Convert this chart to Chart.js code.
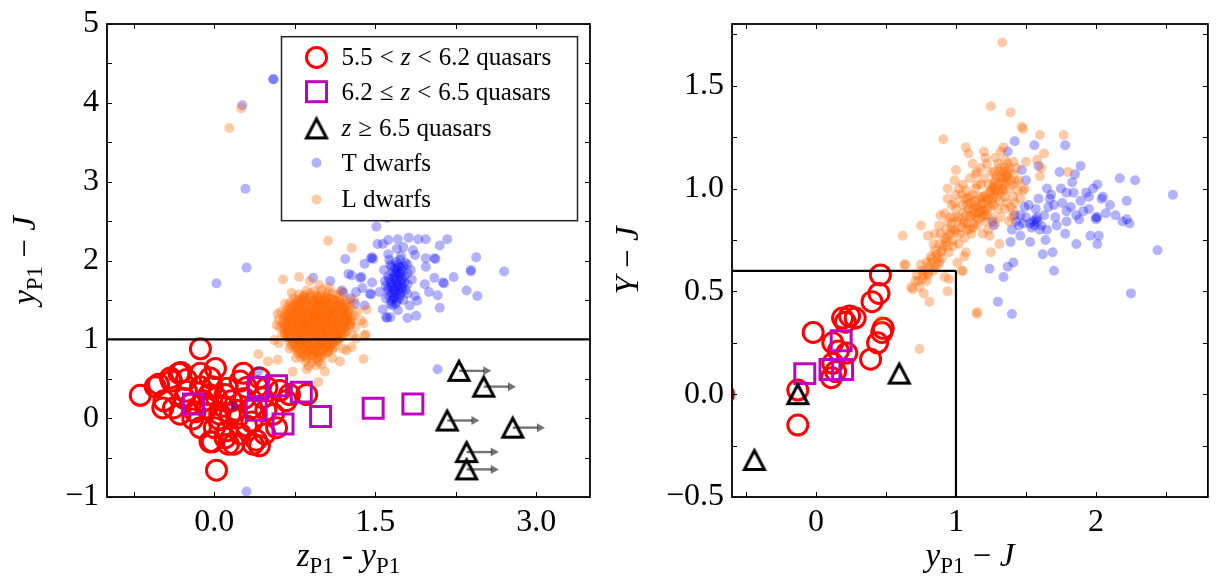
<!DOCTYPE html>
<html>
<head>
<meta charset="utf-8">
<script src="https://cdn.jsdelivr.net/npm/chart.js@4.4.1/dist/chart.umd.min.js"></script>
<style>
  html, body { margin: 0; padding: 0; background: #fff; }
  #wrap { position: relative; width: 1225px; height: 581px; overflow: hidden; }
  canvas { position: absolute; top: 0; }
</style>
</head>
<body>
<div id="wrap">
  <canvas id="leftPanel" width="612" height="581" style="left:0"></canvas>
  <canvas id="rightPanel" width="613" height="581" style="left:612px"></canvas>
</div>
<script>
/* ==========================================================
   Colour–colour diagrams: quasars vs L/T dwarfs (two panels)
========================================================== */

/* ---------- series names ---------- */
const SERIES_NAMES = ['5.5 < z < 6.2 quasars', '6.2 ≤ z < 6.5 quasars', 'z ≥ 6.5 quasars', 'T dwarfs', 'L dwarfs'];

/* ---------- left panel: z_P1 - y_P1  vs  y_P1 - J ---------- */
const LEFT_X_RANGE = [-1.0, 3.5];
const LEFT_Y_RANGE = [-1, 5];
const LEFT_X_TICKS = [-0.75, 0, 0.75, 1.5, 2.25, 3.0];
const LEFT_X_LABELS = ['', '0.0', '', '1.5', '', '3.0'];
const LEFT_Y_TICKS = [-1, -0.5, 0, 0.5, 1, 1.5, 2, 2.5, 3, 3.5, 4, 4.5, 5];
const LEFT_Y_LABELS = ['−1', '', '0', '', '1', '', '2', '', '3', '', '4', '', '5'];
const LEFT_CUT_Y = 1;          // y_P1 - J = 1 selection line
const ARROW_LEN = 0.3;         // lower-limit arrows on z >= 6.5 quasars

const LEFT_Q1 = [
  [-0.13,0.88],[-0.69,0.29],[-0.47,0.22],[-0.48,0.13],[-0.40,0.47],[-0.33,0.57],[-0.52,0.43],
  [-0.26,0.49],[-0.13,0.57],[0.01,0.63],[-0.04,0.51],[-0.13,0.40],[-0.26,0.34],[-0.32,0.05],
  [-0.20,-0.01],[-0.07,0.13],[0.02,0.26],[0.12,0.38],[0.24,0.47],[0.30,0.39],[0.16,0.22],
  [0.05,0.05],[-0.04,-0.30],[0.02,-0.66],[0.13,-0.33],[0.24,-0.20],[0.39,-0.28],[0.42,-0.35],
  [0.30,-0.10],[0.21,0.00],[0.35,0.13],[0.45,0.26],[0.58,-0.12],[0.67,0.22],[0.86,0.30],
  [0.61,0.35],[0.49,0.39],[-0.13,-0.12],[-0.22,0.18],[-0.38,0.13],[0.12,-0.16],[0.00,-0.12],
  [0.18,-0.33],[0.36,-0.33],[0.27,0.57],[0.42,0.51],[-0.41,0.51],[-0.55,0.40],[-0.31,0.58],
  [-0.05,0.30],[0.08,0.15],[-0.10,0.22],[0.10,0.30],[0.20,0.10],[0.28,0.25],[-0.18,0.08],
  [0.05,-0.02],[0.15,0.05],[-0.02,0.40],[0.35,-0.05],[0.48,0.10],[0.55,0.05],[0.10,-0.25],
  [-0.28,0.25],[0.70,0.30],[0.40,0.40],[-0.02,-0.30],[0.47,-0.20]
];
const LEFT_Q2 = [
  [-0.195,0.18],[0.41,0.39],[0.58,0.41],[0.39,0.10],[0.81,0.33],[0.64,-0.075],[0.99,0.02],[1.48,0.125],[1.85,0.18]
];
const LEFT_Q3 = [
  [2.28,0.60],[2.51,0.40],[2.17,-0.03],[2.78,-0.12],[2.35,-0.43],[2.35,-0.65]
];
const LEFT_T = [
  [0.55,4.30],[0.55,4.30],[0.26,3.97],[0.29,2.91],[0.30,1.91],[0.02,1.71],[1.51,2.43],[1.61,2.54],
  [2.08,0.62],[0.30,-0.93],[0.41,0.60],[0.18,0.15],
  [1.52,2.21],[1.57,2.21],[1.62,2.26],[1.71,2.27],[1.81,2.29],[1.90,2.27],[1.97,2.27],[2.17,2.27],
  [2.10,2.19],[1.70,2.15],[1.76,2.17],[1.85,2.13],[1.87,2.07],[1.22,2.02],[1.46,2.03],[1.47,2.04],
  [1.48,2.02],[1.40,1.96],[1.63,2.01],[1.73,2.01],[1.80,1.95],[1.97,2.03],[2.05,2.03],[2.06,2.02],
  [1.97,1.92],[2.44,2.04],[2.39,1.86],[2.39,1.88],[2.70,1.86],[1.25,1.83],[1.37,1.79],[1.47,1.72],
  [2.05,1.78],[2.13,1.72],[2.14,1.71],[2.23,1.79],[1.96,1.70],[2.00,1.60],[2.08,1.56],[2.10,1.40],
  [2.35,1.62],[2.45,1.55],[1.32,1.60],[1.38,1.65],[1.45,1.58],[1.46,1.57],[1.54,1.60],[1.57,1.38],
  [1.60,1.28],[1.61,1.27],[1.64,1.28],[1.71,1.37],[1.80,1.27],[1.88,1.30],[1.82,1.43],[1.89,1.49],
  [1.87,1.55],[1.40,1.43],[1.31,1.45],[1.20,1.59],[1.27,1.52],[0.92,1.78],[1.08,1.74],[1.19,1.62],
  [1.36,1.78],[1.28,1.81],
  [1.64,1.95],[1.68,1.90],[1.72,1.92],[1.66,1.85],[1.70,1.84],[1.75,1.86],[1.62,1.80],[1.67,1.78],
  [1.72,1.79],[1.77,1.80],[1.64,1.73],[1.69,1.72],[1.74,1.74],[1.60,1.68],[1.65,1.66],[1.70,1.67],
  [1.75,1.68],[1.80,1.70],[1.62,1.62],[1.67,1.60],[1.72,1.62],[1.78,1.63],[1.63,1.55],[1.68,1.54],
  [1.73,1.56],[1.65,1.49],[1.70,1.48],[1.60,1.52],[1.76,1.50],[1.69,1.98],[1.78,1.97],[1.83,1.88],
  [1.58,1.88],[1.80,1.58],[1.84,1.76],[1.66,1.43],[1.59,1.74],[1.74,2.06],[1.62,2.08],
  [1.65,1.92],[1.70,1.88],[1.74,1.90],[1.68,1.82],[1.73,1.83],[1.63,1.77],[1.69,1.76],[1.75,1.77],
  [1.66,1.70],[1.71,1.70],[1.77,1.72],[1.62,1.65],[1.68,1.64],[1.74,1.65],[1.65,1.58],[1.70,1.58],
  [1.75,1.60],[1.67,1.52],[1.72,1.52],[1.64,1.45],[1.69,1.45],[1.71,1.95],[1.76,1.93],[1.80,1.84]
];
const LEFT_L = [
  [0.14,3.68],[0.25,3.93],[1.06,2.25],[1.28,2.16],[0.64,1.76],[0.79,1.79],[0.72,1.59],[0.59,1.32],
  [0.58,1.18],[0.66,1.07],[0.56,0.99],[0.41,0.81],[0.50,0.72],[0.59,0.74],[0.73,0.59],[0.86,0.62],
  [0.95,0.67],[1.03,0.59],[1.17,0.72],[1.23,0.86],[1.28,0.90],[1.39,0.75],[1.32,1.01],[1.41,1.06],
  [1.39,1.20],[1.23,1.50],[1.18,1.61],[1.07,1.66],[0.98,1.69],[0.89,1.74],[1.14,0.99],[0.97,0.46],
  [1.42,1.38],[1.37,1.24],[1.40,1.05],[1.33,1.35],[1.30,1.50],[1.25,1.40],
  [0.86,1.62],[0.93,1.61],[1.00,1.63],[1.06,1.60],
  [0.79,1.57],[0.84,1.56],[0.89,1.58],[0.95,1.56],[1.00,1.57],[1.05,1.55],[1.10,1.58],[1.14,1.56],
  [0.74,1.52],[0.79,1.51],[0.83,1.53],[0.88,1.52],[0.93,1.50],[0.97,1.53],[1.02,1.51],[1.07,1.52],[1.12,1.50],[1.17,1.52],
  [0.71,1.47],[0.76,1.46],[0.80,1.48],[0.85,1.47],[0.90,1.45],[0.94,1.48],[0.99,1.46],[1.04,1.47],[1.08,1.45],[1.13,1.48],[1.18,1.46],[1.22,1.47],
  [0.69,1.42],[0.73,1.41],[0.78,1.43],[0.82,1.41],[0.87,1.42],[0.92,1.40],[0.96,1.43],[1.01,1.41],[1.05,1.42],[1.10,1.40],[1.15,1.43],[1.19,1.41],[1.23,1.42],
  [0.67,1.37],[0.72,1.36],[0.76,1.38],[0.81,1.36],[0.85,1.37],[0.90,1.35],[0.94,1.38],[0.99,1.36],[1.03,1.37],[1.08,1.35],[1.12,1.38],[1.17,1.36],[1.21,1.37],[1.25,1.35],
  [0.66,1.32],[0.70,1.31],[0.75,1.33],[0.79,1.31],[0.84,1.32],[0.88,1.30],[0.93,1.33],[0.97,1.31],[1.02,1.32],[1.06,1.30],[1.11,1.33],[1.15,1.31],[1.20,1.32],[1.24,1.30],
  [0.65,1.27],[0.69,1.26],[0.74,1.28],[0.78,1.26],[0.83,1.27],[0.87,1.25],[0.92,1.28],[0.96,1.26],[1.01,1.27],[1.05,1.25],[1.10,1.28],[1.14,1.26],[1.19,1.27],[1.23,1.25],[1.27,1.27],
  [0.64,1.22],[0.68,1.21],[0.73,1.23],[0.77,1.21],[0.82,1.22],[0.86,1.20],[0.91,1.23],[0.95,1.21],[1.00,1.22],[1.04,1.20],[1.09,1.23],[1.13,1.21],[1.18,1.22],[1.22,1.20],[1.26,1.22],
  [0.64,1.17],[0.68,1.16],[0.73,1.18],[0.77,1.16],[0.82,1.17],[0.86,1.15],[0.91,1.18],[0.95,1.16],[1.00,1.17],[1.04,1.15],[1.09,1.18],[1.13,1.16],[1.18,1.17],[1.22,1.15],[1.26,1.17],
  [0.65,1.12],[0.69,1.11],[0.74,1.13],[0.78,1.11],[0.83,1.12],[0.87,1.10],[0.92,1.13],[0.96,1.11],[1.01,1.12],[1.05,1.10],[1.10,1.13],[1.14,1.11],[1.19,1.12],[1.23,1.10],
  [0.66,1.07],[0.70,1.06],[0.75,1.08],[0.79,1.06],[0.84,1.07],[0.88,1.05],[0.93,1.08],[0.97,1.06],[1.02,1.07],[1.06,1.05],[1.11,1.08],[1.15,1.06],[1.20,1.07],
  [0.68,1.02],[0.72,1.01],[0.77,1.03],[0.81,1.01],[0.86,1.02],[0.90,1.00],[0.95,1.03],[0.99,1.01],[1.04,1.02],[1.08,1.00],[1.13,1.03],[1.17,1.01],
  [0.70,0.97],[0.74,0.96],[0.79,0.98],[0.83,0.96],[0.88,0.97],[0.92,0.95],[0.97,0.98],[1.01,0.96],[1.06,0.97],[1.10,0.95],[1.15,0.98],
  [0.72,0.92],[0.77,0.91],[0.81,0.93],[0.86,0.91],[0.90,0.92],[0.95,0.90],[0.99,0.93],[1.04,0.91],[1.08,0.92],[1.12,0.90],
  [0.75,0.87],[0.79,0.86],[0.84,0.88],[0.88,0.86],[0.93,0.87],[0.97,0.85],[1.02,0.88],[1.06,0.86],[1.10,0.87],
  [0.78,0.82],[0.83,0.81],[0.87,0.83],[0.92,0.81],[0.96,0.82],[1.01,0.80],[1.05,0.83],
  [0.81,0.77],[0.86,0.76],[0.91,0.78],[0.95,0.76],[1.00,0.77],
  [0.85,0.72],[0.91,0.71],[0.97,0.72],
  [0.88,1.20],[0.94,1.28],[1.00,1.20],[0.92,1.10],[0.98,1.14],[1.04,1.28],[0.86,1.12],[0.96,1.36],
  [0.90,1.30],[1.06,1.12],[0.82,1.20],[0.94,1.04],[1.00,0.94],[0.86,0.96],[1.10,1.20],[0.80,1.36],
  [0.98,1.44],[1.08,1.36],[0.92,0.86],[0.78,1.10],
  [0.83,1.54],[0.91,1.55],[0.98,1.54],[1.05,1.53],
  [0.77,1.49],[0.84,1.50],[0.91,1.49],[0.97,1.50],[1.03,1.49],[1.10,1.50],[1.15,1.49],
  [0.74,1.44],[0.80,1.45],[0.86,1.44],[0.93,1.45],[0.99,1.44],[1.05,1.45],[1.12,1.44],[1.18,1.45],
  [0.71,1.39],[0.78,1.40],[0.84,1.39],[0.90,1.40],[0.97,1.39],[1.03,1.40],[1.09,1.39],[1.15,1.40],[1.21,1.39],
  [0.69,1.34],[0.76,1.35],[0.82,1.34],[0.88,1.35],[0.95,1.34],[1.01,1.35],[1.07,1.34],[1.13,1.35],[1.19,1.34],[1.24,1.33],
  [0.68,1.29],[0.74,1.30],[0.80,1.29],[0.86,1.30],[0.93,1.29],[0.99,1.30],[1.05,1.29],[1.11,1.30],[1.17,1.29],[1.23,1.30],
  [0.67,1.24],[0.73,1.25],[0.79,1.24],[0.85,1.25],[0.92,1.24],[0.98,1.25],[1.04,1.24],[1.10,1.25],[1.16,1.24],[1.22,1.25],[1.28,1.24],
  [0.66,1.19],[0.72,1.20],[0.78,1.19],[0.84,1.20],[0.91,1.19],[0.97,1.20],[1.03,1.19],[1.09,1.20],[1.15,1.19],[1.21,1.20],[1.27,1.19],
  [0.67,1.14],[0.73,1.15],[0.79,1.14],[0.85,1.15],[0.92,1.14],[0.98,1.15],[1.04,1.14],[1.10,1.15],[1.16,1.14],[1.22,1.15],
  [0.68,1.09],[0.74,1.10],[0.80,1.09],[0.86,1.10],[0.93,1.09],[0.99,1.10],[1.05,1.09],[1.11,1.10],[1.17,1.09],[1.22,1.08],
  [0.70,1.04],[0.76,1.05],[0.82,1.04],[0.88,1.05],[0.95,1.04],[1.01,1.05],[1.07,1.04],[1.13,1.05],[1.19,1.04],
  [0.72,0.99],[0.78,1.00],[0.84,0.99],[0.90,1.00],[0.97,0.99],[1.03,1.00],[1.09,0.99],[1.15,1.00],
  [0.74,0.94],[0.80,0.95],[0.87,0.94],[0.93,0.95],[0.99,0.94],[1.05,0.95],[1.11,0.94],
  [0.77,0.89],[0.83,0.90],[0.90,0.89],[0.96,0.90],[1.02,0.89],[1.08,0.90],
  [0.80,0.84],[0.87,0.85],[0.94,0.84],[1.00,0.85],[1.06,0.84],
  [0.84,0.79],[0.91,0.80],[0.98,0.79],
  [0.60,1.25],[0.61,1.15],[0.62,1.35],[0.63,1.05],[0.60,0.95],[1.30,1.30],[1.31,1.15],[1.29,1.05],
  [0.66,1.45],[1.27,1.42],[0.70,0.88],[1.20,0.88],[0.76,0.76],[1.10,0.76],[0.88,0.66],[1.00,0.68]
];

/* ---------- right panel: y_P1 - J  vs  Y - J ---------- */
const RIGHT_X_RANGE = [-0.6, 2.8];
const RIGHT_Y_RANGE = [-0.5, 1.8];
const RIGHT_X_TICKS = [-0.5, 0, 0.5, 1, 1.5, 2, 2.5];
const RIGHT_X_LABELS = ['', '0', '', '1', '', '2', ''];
const RIGHT_Y_TICKS = [-0.5, -0.25, 0, 0.25, 0.5, 0.75, 1, 1.25, 1.5, 1.75];
const RIGHT_Y_LABELS = ['−0.5', '', '0.0', '', '0.5', '', '1.0', '', '1.5', ''];
const RIGHT_CUT_X = 1;         // y_P1 - J < 1
const RIGHT_CUT_Y = 0.6;       // Y - J < 0.6

const RIGHT_Q1 = [
  [0.46,0.58],[0.45,0.49],[0.40,0.45],[0.19,0.37],[0.24,0.38],[0.28,0.37],[0.21,0.35],[0.48,0.32],
  [0.47,0.30],[0.44,0.25],[-0.02,0.30],[0.12,0.25],[0.16,0.21],[0.22,0.20],[0.39,0.17],[0.12,0.15],
  [0.11,0.08],[0.14,0.11],[-0.13,0.02],[-0.13,-0.15],[-0.66,0.0]
];
const RIGHT_Q2 = [[-0.08,0.10],[0.10,0.12],[0.19,0.12],[0.18,0.26]];
const RIGHT_Q3 = [[-0.13,0.0],[-0.44,-0.32],[0.595,0.10]];
const RIGHT_T = [
  [1.42,1.23],[1.56,1.21],[1.78,1.21],[1.37,1.18],[1.59,1.11],[1.74,1.08],[1.85,1.07],[1.89,1.11],
  [1.83,1.03],[1.50,1.04],[1.65,1.00],[1.75,1.00],[1.79,0.98],[1.93,0.98],[2.01,1.02],[1.95,0.96],
  [2.05,0.96],[2.17,1.05],[2.28,1.04],[2.55,0.97],[2.22,0.94],[1.89,0.94],[1.67,0.95],[1.59,0.95],
  [1.52,0.92],[1.57,0.90],[1.70,0.92],[1.79,0.89],[1.86,0.87],[1.91,0.89],[2.00,0.86],[2.07,0.88],
  [2.14,0.87],[2.19,0.84],[2.24,0.83],[2.44,0.70],[2.25,0.49],[1.46,0.87],[1.48,0.83],[1.53,0.83],
  [1.61,0.82],[1.65,0.80],[1.71,0.86],[1.79,0.84],[1.78,0.78],[1.39,0.74],[1.46,0.77],[1.53,0.74],
  [1.64,0.75],[1.86,0.73],[1.96,0.77],[2.01,0.73],[2.02,0.77],[1.62,0.68],[1.69,0.69],[1.70,0.60],
  [1.41,0.64],[1.37,0.62],[1.24,0.61],[1.34,0.57],[1.30,0.45],[1.40,0.39],[1.27,0.82],[1.26,0.84],
  [1.43,0.84],[1.45,0.82],[1.40,0.80],[1.42,0.87],[1.55,0.84],[1.57,0.85],[2.00,0.85],[2.01,0.86],
  [1.56,0.82],[1.58,0.86],[1.66,0.91],[2.04,0.95],[2.22,0.85],[1.47,1.09],[1.49,0.91],
  [1.50,0.86],[1.54,0.81],[1.60,0.80],[1.58,0.84],[1.76,0.93],[1.82,0.91],[1.88,0.85],[1.95,0.90],
  [2.10,0.92],[1.72,0.82],[1.63,0.87],[1.68,0.97],[1.84,0.98],[1.98,1.00]
];
const RIGHT_L = [
  [1.33,1.71],[1.25,1.40],[1.39,1.37],[1.47,1.30],[1.48,1.29],[1.60,1.26],[1.77,1.26],[0.91,1.24],
  [1.07,1.20],[1.09,1.17],[1.20,1.18],[1.21,1.15],[1.34,1.20],[1.41,1.13],[1.50,1.13],[1.58,1.14],
  [1.63,1.17],[1.61,1.10],[1.60,1.06],[1.00,1.09],[0.99,1.04],[1.14,1.07],[1.20,1.05],[0.94,1.00],
  [0.94,0.95],[1.02,1.00],[1.07,0.99],[1.15,1.02],[1.27,1.03],[1.34,1.05],[1.37,1.08],[1.43,1.10],
  [1.49,1.00],[1.46,0.95],[1.80,1.08],[0.89,0.87],[0.75,0.82],[0.62,0.77],[0.80,0.77],[0.84,0.73],
  [0.89,0.78],[0.94,0.84],[0.99,0.86],[1.06,0.95],[1.13,0.92],[1.18,0.95],[1.22,0.94],[1.27,0.97],
  [1.34,0.99],[1.20,0.89],[1.11,0.87],[1.05,0.83],[0.99,0.80],[0.94,0.76],[0.88,0.73],[1.07,0.69],
  [1.01,0.64],[1.05,0.60],[0.95,0.56],[0.94,0.50],[0.81,0.45],[0.77,0.49],[0.69,0.51],[0.73,0.55],
  [0.80,0.59],[0.75,0.63],[0.82,0.67],[0.63,0.63],[1.15,0.39],[1.25,0.69],[1.31,0.73],[1.24,0.77],
  [1.28,0.83],[1.32,0.86],[1.38,0.84],[1.41,0.89],[1.48,0.99],[0.64,0.63],[0.68,0.52],[0.74,0.22],
  [1.15,0.40],[0.87,0.63],[0.80,0.58],[0.92,0.57],[1.04,0.60],[1.06,0.67],[0.46,0.36],
  [1.05,0.88],[1.08,0.92],[1.10,0.86],[1.12,0.90],[1.14,0.94],[1.16,0.88],[1.18,0.92],[1.20,0.96],
  [1.22,0.90],[1.24,0.98],[1.26,1.00],[1.28,1.04],[1.30,1.02],[1.32,1.06],[1.34,1.08],[1.36,1.04],
  [1.38,1.00],[1.33,1.00],[1.29,0.96],[1.25,0.93],[1.19,0.86],[1.13,0.83],[1.08,0.80],[1.03,0.78],
  [0.98,0.75],[0.94,0.72],[0.90,0.70],[0.86,0.68],[0.92,0.76],[0.97,0.80],[1.01,0.84],[1.06,0.84],
  [1.11,0.78],[1.15,0.82],[1.21,0.84],[1.17,0.96],[1.23,1.02],[1.27,0.92],[1.31,0.94],[1.35,0.96],
  [1.40,1.02],[1.37,1.12],[1.31,1.10],[1.27,1.08],[1.41,0.96],[1.45,1.04],[0.82,0.64],[0.78,0.60],
  [0.84,0.60],[0.88,0.64],[0.76,0.56],[0.72,0.58],[1.10,0.96],[1.05,0.92],[1.00,0.90],[1.14,1.00],
  [1.18,1.02],[0.96,0.86],[1.23,0.80],[1.19,0.78],
  [1.02,0.86],[1.07,0.87],[1.09,0.90],[1.11,0.93],[1.13,0.88],[1.15,0.91],[1.17,0.89],[1.19,0.93],
  [1.21,0.97],[1.23,0.95],[1.25,0.99],[1.27,1.01],[1.29,1.06],[1.31,1.08],[1.33,1.03],[1.35,1.10],
  [1.37,1.06],[1.39,1.04],[1.32,0.98],[1.28,0.99],[1.24,0.91],[1.20,0.87],[1.16,0.85],[1.12,0.81],
  [1.08,0.83],[1.04,0.81],[1.00,0.79],[0.96,0.78],[0.93,0.74],[0.91,0.72],[0.89,0.69],[0.87,0.66],
  [0.85,0.70],[0.83,0.66],[0.81,0.62],[0.79,0.64],[0.77,0.58],[0.75,0.60],[0.79,0.55],[0.74,0.52],
  [0.71,0.55],[0.85,0.62],[0.90,0.66],[0.95,0.69],[0.98,0.72],[1.02,0.73],[1.06,0.76],[1.10,0.80],
  [1.14,0.86],[1.18,0.90],[1.22,0.87],[1.26,0.95],[1.30,0.99],[1.34,1.02],[1.36,1.06],[1.38,1.10],
  [1.35,1.14],[1.30,1.12],[1.41,1.07],[1.43,1.03],[1.44,0.99],[1.42,0.93],[1.39,0.91],[1.36,0.93],
  [1.12,0.97],[1.08,0.95],[1.04,0.97],[0.99,0.93],[0.97,0.83],[0.93,0.80],
  [1.05,1.02],[1.10,1.05],[1.15,1.08],[1.00,0.97],[0.97,0.92],[1.25,1.08],[1.22,1.12],[1.18,1.10],
  [1.30,0.90],[1.35,0.90],[1.40,0.86],[1.26,0.86],[0.92,0.88],[0.88,0.82],[0.85,0.78],[1.12,1.12],
  [1.28,1.15],[1.32,1.18]
];

/* ---------- colours & fonts ---------- */
const COLORS = {
  q1   : '#ff0000',
  q2   : '#bf00bf',
  q3   : '#000000',
  tDw  : 'rgba(0, 0, 255, 0.3)',
  lDw  : 'rgba(255, 102, 0, 0.35)',
  arrow: 'rgba(0, 0, 0, 0.55)'
};
const SERIF = '"Liberation Serif", "DejaVu Serif", serif';

/* ---------- marker helpers ---------- */
const makeTriangle = () => {
  const c = document.createElement('canvas');
  c.width = 32; c.height = 32;
  const g = c.getContext('2d');
  g.strokeStyle = COLORS.q3; g.lineWidth = 3; g.lineJoin = 'miter';
  g.beginPath(); g.moveTo(16, 6.5); g.lineTo(6, 25.5); g.lineTo(26, 25.5); g.closePath();
  g.stroke();
  return c;
};
const TRIANGLE = makeTriangle();
const pts = arr => arr.map(([x, y]) => ({ x, y }));

/* ---------- rich text (italics + subscripts) ---------- */
const segFont = s => `${s.it ? 'italic ' : ''}${s.sz}px ${SERIF}`;
const drawRich = (ctx, segs, x, y, align) => {
  let w = 0;
  segs.forEach(s => { ctx.font = segFont(s); w += (s.gap || 0) + ctx.measureText(s.t).width; });
  let cx = align === 'center' ? x - w / 2 : x;
  ctx.textAlign = 'left'; ctx.textBaseline = 'alphabetic'; ctx.fillStyle = '#000';
  segs.forEach(s => {
    ctx.font = segFont(s);
    cx += s.gap || 0;
    ctx.fillText(s.t, cx, y + (s.dy || 0));
    cx += ctx.measureText(s.t).width;
  });
};
const TS = 33, SS = 23, SD = 7;
const sub = t => ({ t, sz: SS, dy: SD });
const TITLE_LEFT_X  = [{ t: 'z', it: 1, sz: TS }, sub('P1'), { t: ' - ', sz: TS }, { t: 'y', it: 1, sz: TS }, sub('P1')];
const TITLE_LEFT_Y  = [{ t: 'y', it: 1, sz: TS }, sub('P1'), { t: ' − ', sz: TS }, { t: 'J', it: 1, sz: TS }];
const TITLE_RIGHT_X = TITLE_LEFT_Y;
const TITLE_RIGHT_Y = [{ t: 'Y', it: 1, sz: TS }, { t: ' − ', sz: TS }, { t: 'J', it: 1, sz: TS }];

const LS = 25, LG = 7;
const LEGEND_TEXT = [
  [{ t: '5.5', sz: LS }, { t: '<', sz: LS, gap: LG }, { t: 'z', it: 1, sz: LS, gap: LG }, { t: '<', sz: LS, gap: LG }, { t: '6.2 quasars', sz: LS, gap: LG }],
  [{ t: '6.2', sz: LS }, { t: '≤', sz: LS, gap: LG }, { t: 'z', it: 1, sz: LS, gap: LG }, { t: '<', sz: LS, gap: LG }, { t: '6.5 quasars', sz: LS, gap: LG }],
  [{ t: 'z', it: 1, sz: LS }, { t: '≥', sz: LS, gap: LG }, { t: '6.5 quasars', sz: LS, gap: LG }],
  [{ t: SERIES_NAMES[3], sz: LS }],
  [{ t: SERIES_NAMES[4], sz: LS }]
];

/* ---------- legend (left panel only) ---------- */
const drawLegend = (ctx, a) => {
  const bw = 296, bh = 184;
  const bx = a.right - 12.5 - bw, by = a.top + 12.7;
  ctx.fillStyle = '#fff'; ctx.fillRect(bx, by, bw, bh);
  ctx.strokeStyle = '#222'; ctx.lineWidth = 1.5; ctx.strokeRect(bx, by, bw, bh);
  const rows = [20.7, 55, 91.7, 126, 162.7];
  const mx = bx + 35;
  rows.forEach((ry, i) => {
    const cy = by + ry;
    ctx.save();
    if (i === 0) { ctx.strokeStyle = COLORS.q1; ctx.lineWidth = 3; ctx.beginPath(); ctx.arc(mx, cy, 10, 0, Math.PI * 2); ctx.stroke(); }
    if (i === 1) { ctx.strokeStyle = COLORS.q2; ctx.lineWidth = 3; ctx.strokeRect(mx - 10, cy - 10, 20, 20); }
    if (i === 2) { ctx.drawImage(TRIANGLE, mx - 16, cy - 16); }
    if (i === 3) { ctx.fillStyle = COLORS.tDw; ctx.beginPath(); ctx.arc(mx, cy, 5, 0, Math.PI * 2); ctx.fill(); }
    if (i === 4) { ctx.fillStyle = COLORS.lDw; ctx.beginPath(); ctx.arc(mx, cy, 5, 0, Math.PI * 2); ctx.fill(); }
    ctx.restore();
    drawRich(ctx, LEGEND_TEXT[i], bx + 60, cy + 8, 'left');
  });
};

/* ---------- frame, inward ticks, cut lines, arrows, titles ---------- */
const decor = {
  id: 'decor',
  afterDatasetsDraw (chart, args, o) {
    const { ctx, chartArea: a, scales: { x, y } } = chart;
    ctx.save();

    // selection cuts
    ctx.strokeStyle = '#000'; ctx.lineWidth = 2.2;
    ctx.beginPath();
    o.cuts.forEach(([[x0, y0], [x1, y1]]) => {
      ctx.moveTo(x.getPixelForValue(x0), y.getPixelForValue(y0));
      ctx.lineTo(x.getPixelForValue(x1), y.getPixelForValue(y1));
    });
    ctx.stroke();

    // lower-limit arrows
    (o.arrows || []).forEach(([vx, vy]) => {
      const x0 = x.getPixelForValue(vx), x1 = x.getPixelForValue(vx + ARROW_LEN), py = y.getPixelForValue(vy);
      ctx.strokeStyle = COLORS.arrow; ctx.fillStyle = COLORS.arrow; ctx.lineWidth = 2.4;
      ctx.beginPath(); ctx.moveTo(x0, py); ctx.lineTo(x1 - 7, py); ctx.stroke();
      ctx.beginPath(); ctx.moveTo(x1, py); ctx.lineTo(x1 - 8, py - 4.5); ctx.lineTo(x1 - 8, py + 4.5); ctx.closePath(); ctx.fill();
    });

    // frame
    ctx.strokeStyle = '#000'; ctx.lineWidth = 1.8;
    ctx.strokeRect(a.left, a.top, a.right - a.left, a.bottom - a.top);

    // inward ticks on all four sides
    ctx.lineWidth = 1; ctx.beginPath();
    o.xTicks.forEach(v => {
      const px = Math.round(x.getPixelForValue(v)) + 0.5;
      ctx.moveTo(px, a.bottom); ctx.lineTo(px, a.bottom - 5);
      ctx.moveTo(px, a.top); ctx.lineTo(px, a.top + 5);
    });
    o.yTicks.forEach(v => {
      const py = Math.round(y.getPixelForValue(v)) + 0.5;
      ctx.moveTo(a.left, py); ctx.lineTo(a.left + 5, py);
      ctx.moveTo(a.right, py); ctx.lineTo(a.right - 5, py);
    });
    ctx.stroke();

    if (o.legend) drawLegend(ctx, a);
    ctx.restore();
  },
  afterDraw (chart, args, o) {
    const { ctx, chartArea: a } = chart;
    ctx.save();
    drawRich(ctx, o.xTitle, (a.left + a.right) / 2, 566, 'center');
    ctx.translate(o.yTitleX, (a.top + a.bottom) / 2);
    ctx.rotate(-Math.PI / 2);
    drawRich(ctx, o.yTitle, 0, 0, 'center');
    ctx.restore();
  }
};

/* ---------- chart factory ---------- */
const tickFont = { family: SERIF, size: 32, lineHeight: 1 };
const buildPanel = (cid, cfg) => new Chart(document.getElementById(cid), {
  type: 'scatter',
  data: {
    datasets: [
      { label: SERIES_NAMES[4], data: pts(cfg.l),  pointStyle: 'circle', pointRadius: 5, pointBorderWidth: 0, pointBackgroundColor: COLORS.lDw, clip: 0 },
      { label: SERIES_NAMES[3], data: pts(cfg.t),  pointStyle: 'circle', pointRadius: 5, pointBorderWidth: 0, pointBackgroundColor: COLORS.tDw, clip: 0 },
      { label: SERIES_NAMES[2], data: pts(cfg.q3), pointStyle: TRIANGLE, pointRadius: 11, clip: 0 },
      { label: SERIES_NAMES[1], data: pts(cfg.q2), pointStyle: 'rect', pointRadius: 14.1, pointBorderWidth: 3, pointBorderColor: COLORS.q2, pointBackgroundColor: 'rgba(0,0,0,0)', clip: 0 },
      { label: SERIES_NAMES[0], data: pts(cfg.q1), pointStyle: 'circle', pointRadius: 10, pointBorderWidth: 3, pointBorderColor: COLORS.q1, pointBackgroundColor: 'rgba(0,0,0,0)', clip: 0 }
    ]
  },
  options: {
    responsive: false, animation: false, devicePixelRatio: 1, events: [],
    layout: { padding: { left: 0, top: 17, right: cfg.padRight, bottom: 0 } },
    plugins: {
      legend: { display: false }, tooltip: { enabled: false },
      decor: {
        cuts: cfg.cuts, arrows: cfg.arrows, legend: cfg.legend,
        xTicks: cfg.xTicks, yTicks: cfg.yTicks,
        xTitle: cfg.xTitle, yTitle: cfg.yTitle, yTitleX: cfg.yTitleX
      }
    },
    scales: {
      x: {
        type: 'linear', min: cfg.xRange[0], max: cfg.xRange[1],
        grid: { display: false, drawTicks: false }, border: { display: false },
        afterBuildTicks: s => { s.ticks = cfg.xTicks.map(value => ({ value })); },
        afterFit: s => { s.height = 84; },
        ticks: { font: tickFont, color: '#000', padding: 10, autoSkip: false, maxRotation: 0,
                 callback: (v, i) => cfg.xLabels[i] }
      },
      y: {
        type: 'linear', min: cfg.yRange[0], max: cfg.yRange[1],
        grid: { display: false, drawTicks: false }, border: { display: false },
        afterBuildTicks: s => { s.ticks = cfg.yTicks.map(value => ({ value })); },
        afterFit: s => { s.width = cfg.yAxisW; },
        ticks: { font: tickFont, color: '#000', padding: 8, autoSkip: false,
                 callback: (v, i) => cfg.yLabels[i] }
      }
    }
  },
  plugins: [decor]
});

buildPanel('leftPanel', {
  q1: LEFT_Q1, q2: LEFT_Q2, q3: LEFT_Q3, t: LEFT_T, l: LEFT_L,
  xRange: LEFT_X_RANGE, yRange: LEFT_Y_RANGE,
  xTicks: LEFT_X_TICKS, xLabels: LEFT_X_LABELS, yTicks: LEFT_Y_TICKS, yLabels: LEFT_Y_LABELS,
  cuts: [[[LEFT_X_RANGE[0], LEFT_CUT_Y], [LEFT_X_RANGE[1], LEFT_CUT_Y]]],
  arrows: LEFT_Q3, legend: true,
  xTitle: TITLE_LEFT_X, yTitle: TITLE_LEFT_Y, yTitleX: 35,
  yAxisW: 107, padRight: 22
});

buildPanel('rightPanel', {
  q1: RIGHT_Q1, q2: RIGHT_Q2, q3: RIGHT_Q3, t: RIGHT_T, l: RIGHT_L,
  xRange: RIGHT_X_RANGE, yRange: RIGHT_Y_RANGE,
  xTicks: RIGHT_X_TICKS, xLabels: RIGHT_X_LABELS, yTicks: RIGHT_Y_TICKS, yLabels: RIGHT_Y_LABELS,
  cuts: [[[RIGHT_X_RANGE[0], RIGHT_CUT_Y], [RIGHT_CUT_X, RIGHT_CUT_Y]],
         [[RIGHT_CUT_X, RIGHT_CUT_Y], [RIGHT_CUT_X, RIGHT_Y_RANGE[0]]]],
  arrows: [], legend: false,
  xTitle: TITLE_RIGHT_X, yTitle: TITLE_RIGHT_Y, yTitleX: 26,
  yAxisW: 120, padRight: 12
});
</script>
</body>
</html>
